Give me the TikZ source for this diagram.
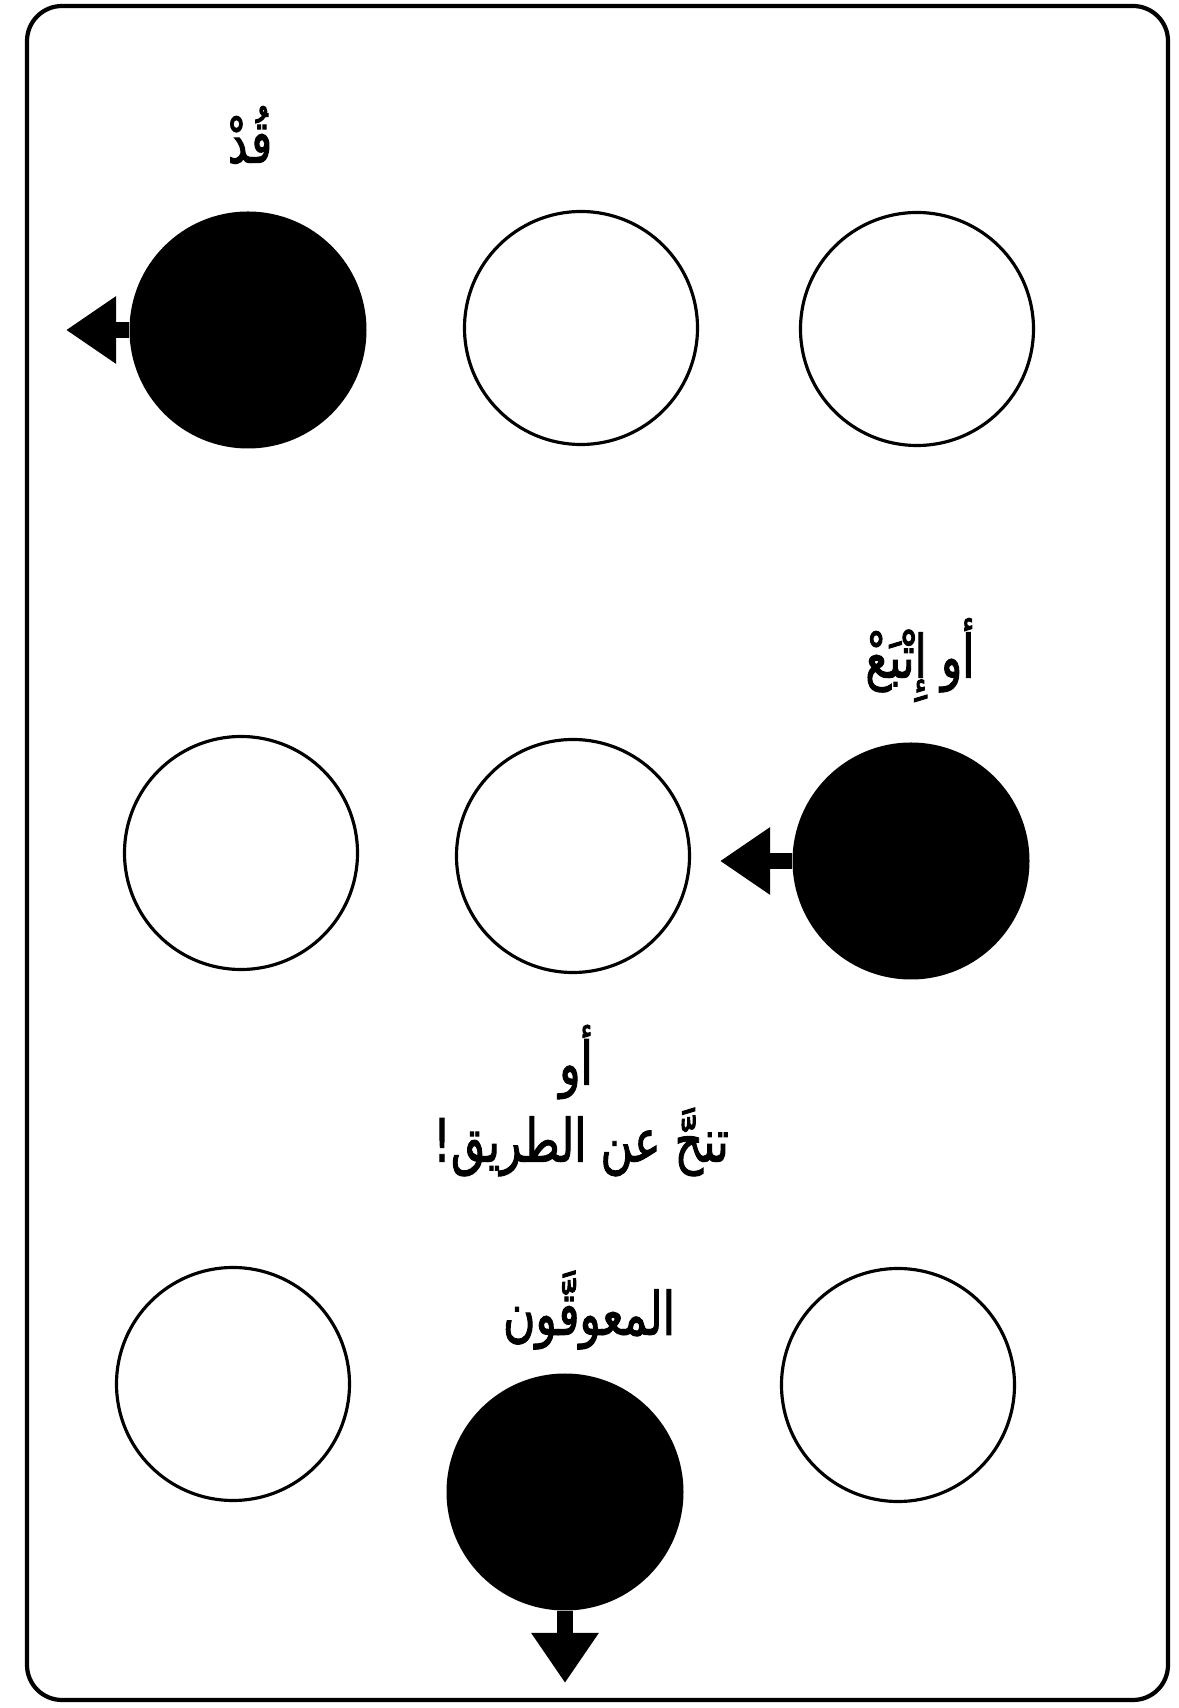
\documentclass[tikz,border=0pt]{standalone}
\usepackage{fontspec}
\usetikzlibrary{arrows.meta}
\TeXXeTstate=1
\newfontfamily\arabicfont[Script=Arabic, FakeStretch=0.74, FakeBold=1.6]{DejaVu Sans}
\definecolor{InkBlack}{HTML}{000000}
\tikzset{
  emptydisc/.style={circle, draw=InkBlack, line width=0.9pt, fill=white,
                minimum size=2.33cm, inner sep=0pt},
  fulldisc/.style={circle, fill=InkBlack, minimum size=2.37cm, inner sep=0pt},
  movearrow/.style={-{Triangle[length=0.5cm, width=0.64cm]}, line width=0.16cm, InkBlack, #1},
  signtext/.style={font=\arabicfont\fontsize{17}{20}\selectfont, inner sep=1pt},
}
\begin{document}
\begin{tikzpicture}
    \useasboundingbox (0,0) rectangle (11.79,17.08);
    % Coordinate map:
    % row A at y ~ 13.8 -- lead disc (A1) pushes out to the left
    % row B at y ~ 8.5  -- follower disc (B3) moves left
    % row C at y ~ 3.2  -- blocking disc (C2) drops out downward
    \draw[InkBlack, line width=1.2pt, rounded corners=0.35cm] (0.27,0.08) rectangle (11.68,17.02);

    \node[fulldisc] (A1) at (2.48, 13.78) {};
    \node[emptydisc] (A2) at (5.81, 13.80) {};
    \node[emptydisc] (A3) at (9.17, 13.79) {};

    \node[emptydisc] (B1) at (2.41, 8.55) {};
    \node[emptydisc] (B2) at (5.73, 8.52) {};
    \node[fulldisc] (B3) at (9.11, 8.47) {};

    \node[emptydisc] (C1) at (2.33, 3.24) {};
    \node[fulldisc] (C2) at (5.65, 2.16) {};
    \node[emptydisc] (C3) at (8.98, 3.23) {};

    \coordinate (A1tip) at (0.66, 13.78);
    \coordinate (B3tip) at (7.20, 8.47);
    \coordinate (C2tip) at (5.65, 0.25);

    \draw[movearrow={}] (A1.west) -- (A1tip);
    \draw[movearrow={}] (B3.west) -- (B3tip);
    \draw[movearrow={}] (C2.south) -- (C2tip);

    \node[signtext] (leadlbl) at (2.50, 15.73) {\beginR قُدْ\endR};
    \node[signtext] (followlbl) at (9.20, 10.48) {\beginR أو إِتْبَعْ\endR};
    \node[signtext] (orlbl) at (5.76, 6.46) {\beginR أو\endR};
    \node[signtext] (asidelbl) at (5.81, 5.66) {\beginR تنحَّ عن الطريق!\endR};
    \node[signtext] (blocklbl) at (5.89, 3.98) {\beginR المعوقَّون\endR};
\end{tikzpicture}
\end{document}
